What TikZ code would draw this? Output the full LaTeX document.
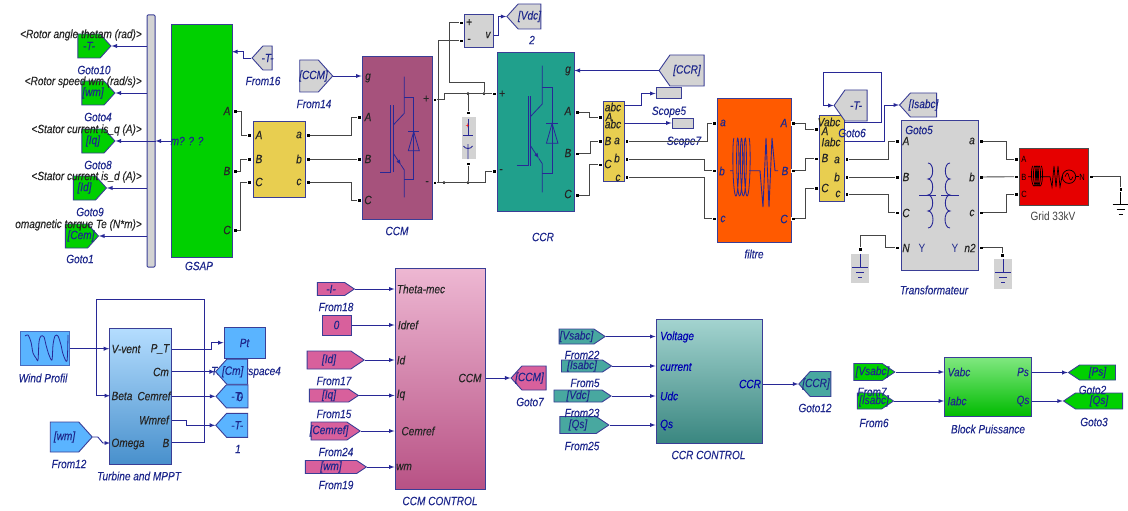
\documentclass[tikz,border=0pt]{standalone}
\usepackage{fontspec}
\setmainfont{Liberation Sans}[FakeStretch=0.84,ItalicFeatures={FakeBold=0.2}]
\usetikzlibrary{shapes.symbols}
\definecolor{edgeblue}{RGB}{58,62,150}
\definecolor{txtblue}{RGB}{30,40,140}
\definecolor{sigblue}{RGB}{40,40,150}
\definecolor{wiregray}{RGB}{70,70,70}
\definecolor{boxgray}{RGB}{211,211,211}
\definecolor{gsapgreen}{RGB}{0,208,0}
\definecolor{yel}{RGB}{232,206,80}
\definecolor{ccmpurple}{RGB}{166,82,124}
\definecolor{ccrteal}{RGB}{32,160,140}
\definecolor{filtorange}{RGB}{255,90,0}
\definecolor{gridred}{RGB}{230,0,0}
\definecolor{windblue}{RGB}{90,180,255}
\definecolor{ctlpink}{RGB}{216,96,156}
\definecolor{ctlteal}{RGB}{72,168,160}
\newcommand{\tg}[1]{\makebox[0pt]{#1}}
\newcommand{\tgr}[1]{\makebox[0pt]{#1\kern 9pt}}
\newcommand{\tgl}[1]{\makebox[0pt]{\kern 9pt #1}}
\newcommand{\igbtsym}[3]{%
\begin{scope}[shift={(#1,#2)},scale=#3,draw=sigblue,line width=0.8pt]
\draw (0,0) -- (10.7,0) -- (10.7,-66.7);
\draw (13.3,0) -- (13.3,-66.7);
\draw (24.3,-95.3) -- (24.3,-58.7) -- (13.3,-47);
\draw [-latex] (13.3,-18.7) -- (21,-7);
\draw (21,-7) -- (24.3,-2) -- (24.3,25.3);
\draw (24.3,-74.7) -- (33.7,-74.7) -- (33.7,7) -- (24.3,7);
\draw (28.3,-40.3) -- (39.3,-40.3);
\draw (28.3,-21.3) -- (39.3,-21.3) -- (33.7,-40.3) -- cycle;
\end{scope}}
\newcommand{\gndsym}[3]{%
\draw [#3] (#1,#2) -- ++(0,13) (#1-8,#2+13) -- ++(16,0) (#1-4,#2+18) -- ++(8,0) (#1-2,#2+23) -- ++(4,0);}
\newcommand{\coilsym}[5]{%
\draw [#5,domain=0:1440,samples=120,smooth,variable=\t] plot ({#1+#3*(\t/1440)-2*sin(\t)},{#2-#4*cos(\t)});}
\tikzset{
block/.style={draw=edgeblue,line width=1pt,inner sep=0pt},
tagbase/.style={signal,signal from=nowhere,signal pointer angle=96,draw=edgeblue,line width=0.9pt,inner sep=0pt,text=txtblue,font=\itshape\fontsize{12}{14}\selectfont},
tagr/.style={tagbase,signal to=east,xshift=-4.5pt},
tagl/.style={tagbase,signal to=west,xshift=4.5pt},
slim/.style={signal pointer angle=68},
port/.style={fill=black,draw=white,line width=0.2pt,minimum size=3.6pt,inner sep=0pt},
wire/.style={draw=wiregray,line width=0.9pt},
sig/.style={draw=sigblue,line width=0.9pt,-latex},
sigline/.style={draw=sigblue,line width=0.9pt},
lbl/.style={text=txtblue,inner sep=0pt,font=\itshape\fontsize{12}{14}\selectfont},
blk/.style={text=black!85,inner sep=0pt,font=\itshape\fontsize{12}{14}\selectfont},
junc/.style={circle,fill=black,minimum size=3pt,inner sep=0pt}
}
\begin{document}
\begin{tikzpicture}[x=1pt,y=-1pt]
\useasboundingbox (0,0) rectangle (1128,511);
% SCOPE BUS AND GOTO TAGS
\node [block,fill=boxgray,rounded corners=1pt,minimum width=8,minimum height=252] (bus) at (151,141) {};
\node [tagr,fill=gsapgreen,minimum width=33,minimum height=24] (goto10) at (93.5,46) {\tg{-T-}};
\node [tagr,fill=gsapgreen,minimum width=33,minimum height=24] (goto4) at (97.5,93) {\tg{[wm]}};
\node [tagr,fill=gsapgreen,minimum width=33,minimum height=24] (goto8) at (97.5,141) {\tg{[Iq]}};
\node [tagr,fill=gsapgreen,minimum width=33,minimum height=24] (goto9) at (89,188) {\tg{[Id]}};
\node [tagr,fill=gsapgreen,minimum width=33,minimum height=24] (goto1) at (81,236) {\tgl{[Cem]}};
\draw [sig] (bus.west |- goto10.east) -- (goto10.east);
\draw [sig] (bus.west |- goto4.east) -- (goto4.east);
\draw [sig] (bus.east |- goto8.east) -- (goto8.east);
\draw [sig] (bus.west |- goto9.east) -- (goto9.east);
\draw [sig] (bus.west |- goto1.east) -- (goto1.east);
\node [blk,anchor=east] (sig1) at (142,35) {<Rotor angle thetam (rad)>};
\node [blk,anchor=east] (sig2) at (142,82) {<Rotor speed wm (rad/s)>};
\node [blk,anchor=east] (sig3) at (142,130) {<Stator current is\_q (A)>};
\node [blk,anchor=east] (sig4) at (142,177) {<Stator current is\_d (A)>};
\node [blk,anchor=east] (sig5) at (142,225) {omagnetic torque Te (N*m)>};
\node [lbl] (lgoto10) at (94,70) {Goto10};
\node [lbl] (lgoto4) at (98,117) {Goto4};
\node [lbl] (lgoto8) at (98,165) {Goto8};
\node [lbl] (lgoto9) at (90,212) {Goto9};
\node [lbl] (lgoto1) at (80,259) {Goto1};
% GSAP
\node [block,fill=gsapgreen,minimum width=61,minimum height=232] (gsap) at (201.5,141) {};
\node [lbl] (lgsap) at (199,266) {GSAP};
\node [lbl] (gsapm) at (187,141) {m? ? ?};
\draw [sig] (gsap.west) -- (bus.east);
\node [blk] (gsapa) at (227,111) {A};
\node [blk] (gsapb) at (227,171) {B};
\node [blk] (gsapc) at (227,230) {C};
\node [port] (gsapA) at (235,111) {};
\node [port] (gsapB) at (235,171) {};
\node [port] (gsapC) at (235,230) {};
\node [tagl,fill=boxgray,minimum width=20,minimum height=24] (from16) at (263,58) {\tg{-T-}};
\node [lbl] (lfrom16) at (263,81) {From16};
\coordinate (gsapT) at (232,51.7);
\draw [sig] (from16.west) -- ++(-8,0) |- (gsapT);
\node [tagr,fill=boxgray,minimum width=33,minimum height=32] (from14) at (313.5,76) {\tgl{[CCM]}};
\node [lbl] (lfrom14) at (314,104) {From14};
% FIRST MEASURE BLOCK
\node [block,fill=yel,minimum width=52,minimum height=76] (meas1) at (279,159) {};
\node [blk] (m1a) at (259,135) {A};
\node [blk] (m1b) at (259,159) {B};
\node [blk] (m1c) at (259,182) {C};
\node [blk] (m1d) at (299,135) {a};
\node [blk] (m1e) at (299,159) {b};
\node [blk] (m1f) at (299,182) {c};
\node [port] (m1A) at (249,135) {};
\node [port] (m1B) at (249,159) {};
\node [port] (m1C) at (249,182) {};
\node [port] (m1o1) at (308,135) {};
\node [port] (m1o2) at (308,159) {};
\node [port] (m1o3) at (308,182) {};
\draw [wire] (gsapA) -- ++(6,0) |- (m1A);
\draw [wire] (gsapB) -- ++(5,0) |- (m1B);
\draw [wire] (gsapC) -- ++(5,0) |- (m1C);
% CCM
\node [block,fill=ccmpurple,minimum width=70,minimum height=162] (ccm) at (397,138) {};
\igbtsym{380}{172}{1}
\node [lbl] (lccm) at (397,231) {CCM};
\node [blk] (ccmg) at (368,78) {g};
\node [blk] (ccma) at (368,117) {A};
\node [blk] (ccmb) at (368,159) {B};
\node [blk] (ccmc) at (368,200) {C};
\node [blk] (ccmp) at (426,99) {+};
\node [blk] (ccmm) at (427,183) {-};
\node [port] (ccmA) at (359,117) {};
\node [port] (ccmB) at (359,159) {};
\node [port] (ccmC) at (359,200) {};
\node [port] (ccmP) at (434.7,99.5) {};
\node [port] (ccmM) at (434.7,182.7) {};
\draw [sig] (from14.east) -- (from14.east -| ccm.west);
\draw [wire] (m1o1) -- ++(43,0) |- (ccmA);
\draw [wire] (m1o2) -- (ccmB);
\draw [wire] (m1o3) -- ++(43,0) |- (ccmC);
% VOLTMETER
\node [block,fill=boxgray,minimum width=29,minimum height=33] (volt) at (478.5,31.5) {};
\node [blk] (voltp) at (469,22.7) {+};
\node [blk] (voltm) at (469,40.7) {-};
\node [blk] (voltv) at (488,35) {v};
\node [port] (voltP) at (461,22.7) {};
\node [port] (voltM) at (461,40.7) {};
\node [tagl,fill=boxgray,minimum width=34,minimum height=25] (vdc) at (525,16.5) {\tg{[Vdc]}};
\node [lbl] (lvdc) at (532,40) {2};
\coordinate (voltO) at (493.5,35);
\draw [sig] (voltO) -- ++(4.5,0) |- (vdc.west);
% CCR
\node [block,fill=ccrteal,minimum width=77,minimum height=158] (ccr) at (535.5,132) {};
\igbtsym{516.7}{165.7}{1.05}
\node [lbl] (lccr) at (543,237) {CCR};
\node [blk] (ccrg) at (568,71) {g};
\node [blk] (ccra) at (568,111) {A};
\node [blk] (ccrb) at (568,153) {B};
\node [blk] (ccrc) at (568,194) {C};
\node [blk] (ccrp) at (502,94) {+};
\node [blk] (ccrm) at (501,171) {-};
\node [port] (ccrP) at (494,93.7) {};
\node [port] (ccrM) at (494,171) {};
\node [port] (ccrA) at (577,112) {};
\node [port] (ccrB) at (577,153.5) {};
\node [port] (ccrC) at (577,195) {};
\node [tagl,fill=boxgray,signal pointer angle=110,minimum width=45,minimum height=31] (ccrtag) at (682.5,70.5) {\tg{[CCR]}};
\draw [sig] (ccrtag.west) -- (ccrtag.west -| ccr.east);
% DC LINK
\node [block,draw=none,fill=boxgray,minimum width=14,minimum height=42] (capbox) at (469,138) {};
\node [port] (capT) at (468,112.7) {};
\node [port] (capB) at (468,163.7) {};
\node [junc] (j1) at (468,93.7) {};
\node [junc] (j2) at (484,93.7) {};
\node [junc] (j3) at (444,182.7) {};
\node [junc] (j4) at (468,182.7) {};
\draw [wire] (ccmP) -- ++(9.3,0) |- (ccrP);
\draw [wire] (ccmM) -- ++(50.3,0) |- (ccrM);
\draw [wire] (j1) -- (capT);
\draw [wire] (j4) -- (capB);
\draw [wire] (j2) |- ++(-34.7,-11) |- (voltP);
\draw [wire] (ccmM -| voltM) ++(-22.7,0) |- (voltM);
\draw [sigline] (468,119) -- (468,135) (463,135) -- (473,135);
\draw [sigline] (463.5,146) to[out=-70,in=-110] (472.5,146) (468,144) -- (468,159);
\node [text=red,inner sep=0pt,font=\fontsize{8}{8}\selectfont] (capplus) at (467.5,126) {+};
% SECOND MEASURE BLOCK
\node [block,fill=yel,minimum width=21,minimum height=79] (meas2) at (613.5,141.5) {};
\node [blk] (m2a) at (613,107) {abc};
\node [blk] (m2b) at (609,117) {A};
\node [blk] (m2c) at (613,124) {abc};
\node [blk] (m2d) at (608,141) {B};
\node [blk] (m2e) at (617,141) {a};
\node [blk] (m2f) at (608,164) {C};
\node [blk] (m2g) at (617,158) {b};
\node [blk] (m2h) at (618,178) {c};
\node [port] (m2A) at (600,117) {};
\node [port] (m2B) at (600,141) {};
\node [port] (m2C) at (600,164.7) {};
\node [port] (m2o1) at (626.7,141) {};
\node [port] (m2o2) at (626.7,159) {};
\node [port] (m2o3) at (626.7,177) {};
\draw [wire] (ccrA) -- ++(12,0) |- (m2A);
\draw [wire] (ccrB) -- ++(13,0) |- (m2B);
\draw [wire] (ccrC) -- ++(12,0) |- (m2C);
\node [block,fill=boxgray,minimum width=25,minimum height=11] (scope5) at (668.5,93.5) {};
\node [block,fill=boxgray,minimum width=21,minimum height=10] (scope7) at (682.5,123) {};
\node [lbl] (lscope5) at (669,112) {Scope5};
\node [lbl] (lscope7) at (684,142) {Scope7};
\coordinate (m2s1) at (624,105);
\coordinate (m2s2) at (624,123);
\draw [sig] (m2s1) -- ++(17,0) |- (scope5.west);
\draw [sig] (m2s2) -- (scope7.west);
% FILTRE
\node [block,fill=filtorange,minimum width=74,minimum height=143] (filtre) at (754,170.5) {};
\node [lbl] (lfiltre) at (754,254) {filtre};
\node [lbl] (fa) at (723,123) {a};
\node [lbl] (fb) at (722,171) {b};
\node [lbl] (fc) at (723,219) {c};
\node [lbl] (fd) at (784,123) {A};
\node [lbl] (fe) at (785,171) {B};
\node [lbl] (ff) at (784,219) {C};
\node [port] (filtA) at (714,123) {};
\node [port] (filtB) at (714,170.7) {};
\node [port] (filtC) at (714,218.7) {};
\node [port] (filtD) at (793,123) {};
\node [port] (filtE) at (793,170.7) {};
\node [port] (filtF) at (793,218.7) {};
\draw [sigline] (730,170.7) -- (733,170.7) (749,170.7) -- (760,170.7) -- (763,207) -- (766,138) -- (769,207) -- (772,138) -- (775,170.7) -- (778,170.7);
\coilsym{734}{167}{15}{29}{sigblue,line width=0.8pt}
\draw [wire] (m2o1) -- ++(80.3,0) |- (filtA);
\draw [wire] (m2o2) -- ++(77.3,0) |- (filtB);
\draw [wire] (m2o3) -- ++(77.3,0) |- (filtC);
% THIRD MEASURE BLOCK
\node [block,fill=yel,minimum width=25,minimum height=86] (meas3) at (831.5,158.7) {};
\node [port] (m3A) at (816,129.3) {};
\node [port] (m3B) at (816,158.7) {};
\node [port] (m3C) at (816,188.3) {};
\node [port] (m3o1) at (846.7,159) {};
\node [port] (m3o2) at (846.7,177) {};
\node [port] (m3o3) at (846.7,194) {};
\draw [wire] (filtD) -- ++(12,0) |- (m3A);
\draw [wire] (filtE) -- ++(12,0) |- (m3B);
\draw [wire] (filtF) -- ++(12,0) |- (m3C);
\node [tagl,fill=boxgray,minimum width=33,minimum height=31,signal pointer angle=110] (goto6) at (851.5,105.5) {\tg{-T-}};
\coordinate (m3v) at (844,122.7);
\coordinate (m3i) at (844,141);
\draw [sig] (m3v) -- ++(37,0) -- ++(0,-50.4) -- ++(-58,0) |- (goto6.west);
\node [blk] (m3a) at (829,122) {Vabc};
\node [blk] (m3b) at (825,131) {A};
\node [blk] (m3c) at (831,142) {Iabc};
\node [blk] (m3d) at (825,158) {B};
\node [blk] (m3e) at (825,188) {C};
\node [blk] (m3f) at (837,160) {a};
\node [blk] (m3g) at (837,177) {b};
\node [blk] (m3h) at (838,194) {c};
\node [lbl] (lgoto6) at (852,133) {Goto6};
% TRANSFORMATEUR
\node [block,fill=boxgray,minimum width=77,minimum height=150] (transfo) at (939.5,195) {};
\node [tagl,fill=boxgray,minimum width=37,minimum height=24] (goto5) at (919,105) {\tg{[Isabc]}};
\draw [sig] (m3i) -- ++(40.3,0) |- (goto5.west);
\node [lbl] (lgoto5) at (919,130) {Goto5};
\node [lbl] (ltransfo) at (934,290) {Transformateur};
\node [blk] (ta) at (906,141) {A};
\node [blk] (tb) at (906,177) {B};
\node [blk] (tc) at (906,213) {C};
\node [blk] (tn) at (906,248) {N};
\node [blk] (td) at (972,141) {a};
\node [blk] (te) at (972,177) {b};
\node [blk] (tf) at (972,213) {c};
\node [blk] (tg2) at (970,248) {n2};
\node [lbl,font=\fontsize{12}{14}\selectfont] (ty1) at (922,248) {Y};
\node [lbl,font=\fontsize{12}{14}\selectfont] (ty2) at (955,248) {Y};
\draw [sigline] (919,195) -- (936,195) (941,195) -- (959,195);
\draw [sigline] (928,163) to[out=0,in=0] (928,179) to[out=0,in=0] (928,195) to[out=0,in=0] (928,211) to[out=0,in=0] (928,228);
\draw [sigline] (950,163) to[out=180,in=180] (950,179) to[out=180,in=180] (950,195) to[out=180,in=180] (950,211) to[out=180,in=180] (950,228);
\node [port] (tA) at (897,141) {};
\node [port] (tB) at (897,177) {};
\node [port] (tC) at (897,212.7) {};
\node [port] (tN) at (897,247.7) {};
\node [port] (tD) at (981,141) {};
\node [port] (tE) at (981,177) {};
\node [port] (tF) at (981,212.7) {};
\node [port] (tG) at (981,247.7) {};
\draw [wire] (m3o1) -- ++(41.6,0) |- (tA);
\draw [wire] (m3o2) -- (tB);
\draw [wire] (m3o3) -- ++(41.6,0) |- (tC);
% GROUNDS
\node [block,draw=none,fill=boxgray,minimum width=18,minimum height=29] (g1box) at (860,268.5) {};
\node [block,draw=none,fill=boxgray,minimum width=18,minimum height=30] (g2box) at (1003,274) {};
\gndsym{860}{254}{sigblue,line width=0.8pt}
\gndsym{1003}{259}{sigblue,line width=0.8pt}
\gndsym{1120.7}{191}{black,line width=0.8pt}
\node [port] (g1) at (860,249) {};
\node [port] (g2) at (1002.3,255) {};
\node [port] (g3) at (1120.7,189.3) {};
\draw [wire] (tN) -- ++(-12,0) -- ++(0,-12) -| (g1);
\draw [wire] (tG) -| (g2);
% GRID
\node [block,draw=black!70,fill=gridred,minimum width=69,minimum height=57] (grid) at (1053.5,176.5) {};
\node [lbl,text=black!75,font=\fontsize{12}{14}\selectfont] (lgrid) at (1053,216) {Grid 33kV};
\node [lbl,text=black,font=\fontsize{9}{10}\selectfont] (gra) at (1024,159) {A};
\node [lbl,text=black,font=\fontsize{9}{10}\selectfont] (grb) at (1024,177) {B};
\node [lbl,text=black,font=\fontsize{9}{10}\selectfont] (grc) at (1024,194) {C};
\node [lbl,text=black,font=\fontsize{9}{10}\selectfont] (grn) at (1082,177) {N};
\draw [black,line width=0.7pt] (1028,176.7) -- (1032,176.7) (1041,176.7) -- (1050,176.7) -- (1052,187) -- (1054,166) -- (1056,187) -- (1058,166) -- (1060,187) -- (1062,176.7) -- (1062.5,176.7);
\coilsym{1033}{176}{8}{10}{black,line width=0.7pt}
\draw [black,line width=0.7pt] (1069,176.7) circle (6.7);
\draw [black,line width=0.6pt] (1065,176.7) .. controls (1067,172) and (1068,172) .. (1069,176.7) .. controls (1070,181) and (1071,181) .. (1073,176.7);
\draw [black,line width=0.7pt] (1075.7,176.7) -- (1079,176.7);
\node [port] (grA) at (1016,159) {};
\node [port] (grB) at (1016,176.7) {};
\node [port] (grC) at (1016,194.3) {};
\node [port] (grN) at (1091,176.7) {};
\draw [wire] (tD) -- ++(25.7,0) |- (grA);
\draw [wire] (tE) -- (grB);
\draw [wire] (tF) -- ++(25.7,0) |- (grC);
\draw [wire] (grN) -| (g3);
% TURBINE AND MPPT
\node [block,draw=windblue!40!edgeblue,fill=windblue,minimum width=49,minimum height=34] (wind) at (44.5,348.7) {};
\draw [sigblue,line width=0.8pt,smooth] plot coordinates {(25,336) (28,335) (31,342) (33,353) (36,358) (38,360) (39,342) (41,336) (44,337) (46,345) (49,355) (52,360) (53,345) (55,336) (58,336) (61,345) (63,354) (67,361) (68,335)};
\node [lbl] (lwind) at (43,378) {Wind Profil};
\node [block,top color=windblue!45!white,bottom color=windblue!80!black,minimum width=62,minimum height=136] (turbine) at (140.7,396) {};
\node [lbl] (lturbine) at (139,476) {Turbine and MPPT};
\node [blk] (tu1) at (126,349) {V-vent};
\node [blk] (tu2) at (160,349) {P\_T};
\node [blk] (tu3) at (161,372) {Cm};
\node [blk] (tu4) at (122,396) {Beta};
\node [blk] (tu5) at (154,396) {Cemref};
\node [blk] (tu6) at (154,420) {Wmref};
\node [blk] (tu7) at (128,444) {Omega};
\node [blk] (tu8) at (166,443) {B};
\node [tagr,fill=windblue,minimum width=42,minimum height=30] (from12) at (69,437) {\tg{[wm]}};
\node [lbl] (lfrom12) at (69,464) {From12};
\node [block,fill=windblue,minimum width=41,minimum height=31] (pt) at (244.5,342.7) {};
\node [lbl,text=txtblue] (ptt) at (244.5,343) {Pt};
\node [lbl] (lworkspace) at (246,372) {To Workspace4};
\node [tagl,fill=windblue,minimum width=32,minimum height=25] (cm) at (232.7,371.7) {\tgr{[Cm]}};
\node [tagl,fill=windblue,minimum width=32,minimum height=23] (tt1) at (232.7,396.3) {\tg{-T-}};
\node [tagl,fill=windblue,minimum width=32,minimum height=24] (tt2) at (232.7,425.3) {\tg{-T-}};
\node [lbl] (ltt1) at (240,397) {0};
\node [lbl] (ltt2) at (238,449) {1};
\coordinate (tuPT) at (171.7,349);
\coordinate (tuCm) at (171.7,371.7);
\coordinate (tuCe) at (171.7,396.3);
\coordinate (tuWm) at (171.7,420);
\coordinate (tuB) at (171.7,442.7);
\coordinate (tuBeta) at (110,395.7);
\coordinate (tuOm) at (110,443);
\draw [sig] (wind.east) -- (wind.east -| turbine.west);
\draw [sig] (from12.east) -- ++(5,0) -- ++(5,6) -- (tuOm);
\draw [sig] (tuPT) -- ++(39.3,0) |- (pt.west);
\draw [sig] (tuCm) -- (cm.west);
\draw [sig] (tuCe) -- (tt1.west);
\draw [sig] (tuWm) -- ++(15,0) |- (tt2.west);
\draw [sig] (tuB) -- ++(32.6,0) -- ++(0,-143.4) -- ++(-108.3,0) |- (tuBeta);
% CCM CONTROL
\node [block,top color=ctlpink!45!white,bottom color=ctlpink!85!black,minimum width=90,minimum height=221] (ccmctl) at (440,378.7) {};
\node [lbl] (lccmctl) at (440,501) {CCM CONTROL};
\node [blk] (cc1) at (421,289) {Theta-mec};
\node [blk] (cc2) at (408,325) {Idref};
\node [blk] (cc3) at (401,360) {Id};
\node [blk] (cc4) at (401,395) {Iq};
\node [blk] (cc5) at (418,431) {Cemref};
\node [blk] (cc6) at (404,467) {wm};
\node [blk] (cc7) at (470,378) {CCM};
\node [tagr,slim,fill=ctlpink,minimum width=37,minimum height=13] (from18) at (335.5,289) {\tg{-I-}};
\node [block,fill=ctlpink,minimum width=29,minimum height=20,text=txtblue,font=\fontsize{12}{14}\selectfont] (const0) at (336.5,325) {\itshape 0};
\node [tagr,slim,fill=ctlpink,minimum width=57,minimum height=18] (from17) at (333.5,360) {\tg{[Id]}};
\node [tagr,slim,fill=ctlpink,minimum width=49,minimum height=13] (from15) at (333.5,395.5) {\tg{[Iq]}};
\node [tagr,slim,fill=ctlpink,minimum width=49,minimum height=18] (from24) at (333.5,431) {\tg{[Cemref]}};
\node [tagr,slim,fill=ctlpink,minimum width=61,minimum height=13] (from19) at (335.5,467) {\tg{[wm]}};
\node [lbl] (lfrom18) at (336,307) {From18};
\node [lbl] (lfrom17) at (334,381) {From17};
\node [lbl] (lfrom15) at (334,414) {From15};
\node [lbl] (lfrom24) at (336,452) {From24};
\node [lbl] (lfrom19) at (336,485) {From19};
\draw [sig] (from18.east) -- (from18.east -| ccmctl.west);
\draw [sig] (const0.east) -- (const0.east -| ccmctl.west);
\draw [sig] (from17.east) -- (from17.east -| ccmctl.west);
\draw [sig] (from15.east) -- (from15.east -| ccmctl.west);
\draw [sig] (from24.east) -- (from24.east -| ccmctl.west);
\draw [sig] (from19.east) -- (from19.east -| ccmctl.west);
\node [tagl,fill=ctlpink,minimum width=35,minimum height=24] (goto7) at (529.5,378) {\tgr{[CCM]}};
\node [lbl] (lgoto7) at (530,402) {Goto7};
\draw [sig] (goto7.west -| ccmctl.east) -- (goto7.west);
% CCR CONTROL
\node [block,top color=ctlteal!50!white,bottom color=ctlteal!80!black,minimum width=106,minimum height=124] (ccrctl) at (709,381) {};
\node [lbl] (lccrctl) at (708.5,455) {CCR CONTROL};
\node [lbl,text=blue!70!black,anchor=west] (cr1) at (660,337) {Voltage};
\node [lbl,text=blue!70!black,anchor=west] (cr2) at (660,367) {current};
\node [lbl,text=blue!70!black,anchor=west] (cr3) at (660,396) {Udc};
\node [lbl,text=blue!70!black,anchor=west] (cr4) at (660,425) {Qs};
\node [lbl,text=blue!70!black] (cr5) at (750,384) {CCR};
\node [tagr,slim,fill=ctlteal,minimum width=46,minimum height=15] (from22) at (581,336.5) {\tg{[Vsabc]}};
\node [tagr,slim,fill=ctlteal,minimum width=50,minimum height=12] (from5) at (586.5,366) {\tg{[Isabc]}};
\node [tagr,slim,fill=ctlteal,minimum width=57,minimum height=12] (from23) at (582.5,396) {\tg{[Vdc]}};
\node [tagr,slim,fill=ctlteal,minimum width=49,minimum height=17] (from25) at (582.5,425) {\tg{[Qs]}};
\node [lbl] (lfrom22) at (582,355) {From22};
\node [lbl] (lfrom5) at (585,383) {From5};
\node [lbl] (lfrom23) at (582,413) {From23};
\node [lbl] (lfrom25) at (582,446) {From25};
\draw [sig] (from22.east) -- (from22.east -| ccrctl.west);
\draw [sig] (from5.east) -- (from5.east -| ccrctl.west);
\draw [sig] (from23.east) -- (from23.east -| ccrctl.west);
\draw [sig] (from25.east) -- (from25.east -| ccrctl.west);
\node [tagl,fill=ctlteal,minimum width=32,minimum height=25] (goto12) at (816,384) {\tgr{[CCR]}};
\node [lbl] (lgoto12) at (815,408) {Goto12};
\draw [sig] (goto12.west -| ccrctl.east) -- (goto12.west);
% BLOCK PUISSANCE
\node [block,top color=gsapgreen!50!white,bottom color=gsapgreen!90!black,minimum width=87,minimum height=59] (puis) at (988,387) {};
\node [lbl] (lpuis) at (988,429) {Block Puissance};
\node [lbl] (pu1) at (959,372) {Vabc};
\node [lbl] (pu2) at (957,401) {Iabc};
\node [lbl] (pu3) at (1023,372) {Ps};
\node [lbl] (pu4) at (1023,401) {Qs};
\node [tagr,slim,fill=gsapgreen,minimum width=41,minimum height=17] (from7) at (872.5,372) {\tgl{[Vsabc]}};
\node [tagr,slim,fill=gsapgreen,minimum width=36,minimum height=16] (from6) at (874,401) {\tgl{[Isabc]}};
\node [lbl] (lfrom7) at (872,392) {From7};
\node [lbl] (lfrom6) at (874,423) {From6};
\draw [sig] (from7.east) -- (from7.east -| puis.west);
\draw [sig] (from6.east) -- (from6.east -| puis.west);
\node [tagl,slim,fill=gsapgreen,minimum width=47,minimum height=15] (goto2) at (1093,372.5) {\tg{[Ps]}};
\node [tagl,slim,fill=gsapgreen,minimum width=59,minimum height=16] (goto3) at (1094.5,401) {\tg{[Qs]}};
\node [lbl] (lgoto2) at (1092.5,390) {Goto2};
\node [lbl] (lgoto3) at (1094,422) {Goto3};
\draw [sig] (goto2.west -| puis.east) -- (goto2.west);
\draw [sig] (goto3.west -| puis.east) -- (goto3.west);
\end{tikzpicture}
\end{document}
